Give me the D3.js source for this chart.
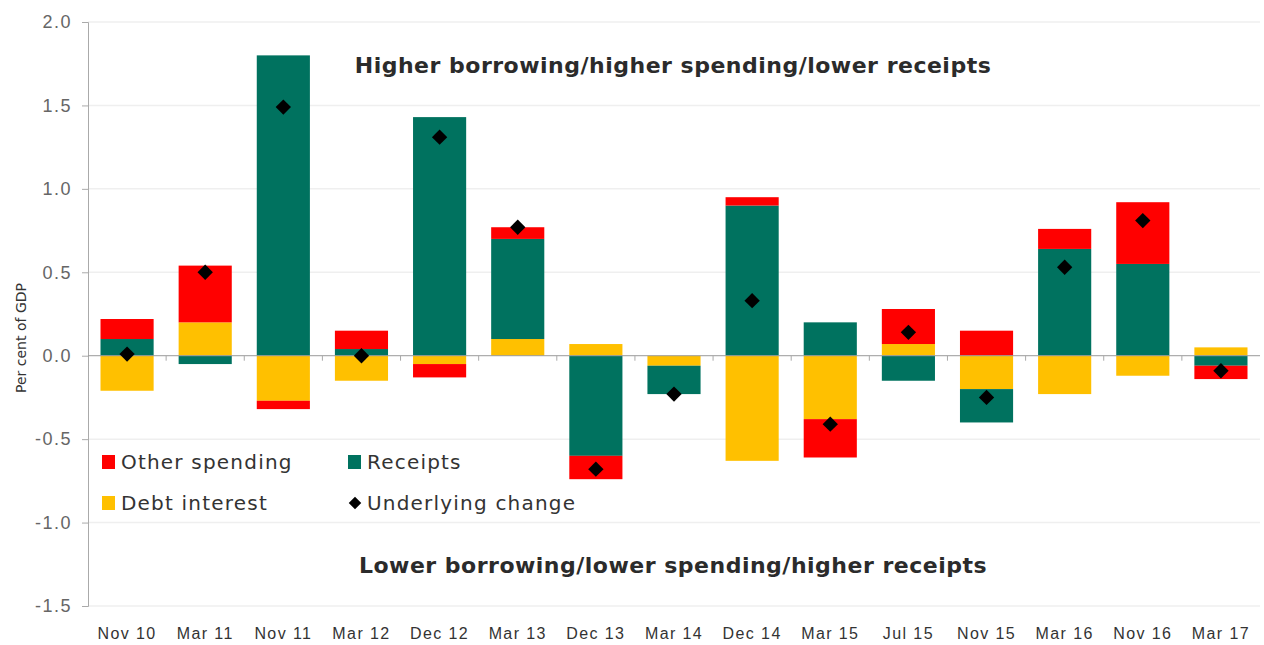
<!DOCTYPE html>
<html>
<head>
<meta charset="utf-8">
<script src="https://cdn.jsdelivr.net/npm/d3@7"></script>
<style>
  body { margin: 0; background: #fff; }
  svg { display: block; font-family: "DejaVu Sans", sans-serif; }
</style>
</head>
<body>
<svg id="chart" width="1264" height="645"></svg>
<script>
const categories = ["Nov 10","Mar 11","Nov 11","Mar 12","Dec 12","Mar 13","Dec 13","Mar 14","Dec 14","Mar 15","Jul 15","Nov 15","Mar 16","Nov 16","Mar 17"];
const debtInterest  = [-0.21, 0.20, -0.27, -0.15, -0.05, 0.10, 0.07, -0.06, -0.63, -0.38, 0.07, -0.20, -0.23, -0.12, 0.05];
const receipts      = [0.10, -0.05, 1.80, 0.04, 1.43, 0.60, -0.60, -0.17, 0.90, 0.20, -0.15, -0.20, 0.64, 0.55, -0.06];
const otherSpending = [0.12, 0.34, -0.05, 0.11, -0.08, 0.07, -0.14, 0.00, 0.05, -0.23, 0.21, 0.15, 0.12, 0.37, -0.08];
const underlying    = [0.01, 0.50, 1.49, 0.00, 1.31, 0.77, -0.68, -0.23, 0.33, -0.41, 0.14, -0.25, 0.53, 0.81, -0.09];
const yTicks = [-1.5, -1.0, -0.5, 0.0, 0.5, 1.0, 1.5, 2.0];
const seriesNames = ["Debt interest", "Receipts", "Other spending"];
const colors = {"Debt interest": "#FFC000", "Receipts": "#00725F", "Other spending": "#FF0000"};

const svg = d3.select("#chart");
const margin = {left: 88, right: 4, top: 22, bottom: 39};
const W = 1264, H = 645;

const x = d3.scaleBand().domain(categories).range([margin.left, W - margin.right]).paddingInner(0.32).paddingOuter(0.16);
const y = d3.scaleLinear().domain([-1.5, 2.0]).range([H - margin.bottom, margin.top]);

const table = categories.map((c, i) => ({
  cat: c,
  "Debt interest": debtInterest[i],
  "Receipts": receipts[i],
  "Other spending": otherSpending[i]
}));
const stack = d3.stack().keys(seriesNames).offset(d3.stackOffsetDiverging);
const stacked = stack(table);

// gridlines
svg.append("g").selectAll("line").data(yTicks.filter(t => t !== 0)).join("line")
  .attr("x1", margin.left).attr("x2", W - margin.right)
  .attr("y1", d => y(d)).attr("y2", d => y(d))
  .attr("stroke", "#efefef").attr("stroke-width", 1.5);

// bars
svg.append("g").selectAll("g").data(stacked).join("g")
  .attr("fill", d => colors[d.key])
  .selectAll("rect").data(d => d).join("rect")
  .attr("x", d => x(d.data.cat))
  .attr("width", x.bandwidth())
  .attr("y", d => y(Math.max(d[0], d[1])))
  .attr("height", d => Math.abs(y(d[0]) - y(d[1])));

// y axis
const fmt = d => d.toFixed(1);
const yAxis = d3.axisLeft(y).tickValues(yTicks).tickFormat(fmt).tickSize(6).tickPadding(10);
const yg = svg.append("g").attr("transform", `translate(${margin.left},0)`).call(yAxis);
yg.select(".domain").attr("stroke", "#aaa");
yg.selectAll(".tick line").attr("stroke", "#aaa");
yg.selectAll(".tick text").attr("fill", "#666").style("font-size", "18px").style("letter-spacing", "1.5px");

// zero line with category boundary ticks
svg.append("line").attr("x1", margin.left).attr("x2", W - margin.right)
  .attr("y1", y(0)).attr("y2", y(0)).attr("stroke", "#9a9a9a").attr("stroke-width", 1);
const step = x.step();
svg.append("g").selectAll("line").data(categories.slice(1)).join("line")
  .attr("x1", d => x(d) - step * x.paddingInner() / 2)
  .attr("x2", d => x(d) - step * x.paddingInner() / 2)
  .attr("y1", y(0)).attr("y2", y(0) + 5)
  .attr("stroke", "#aaa");

// x labels
const xAxis = d3.axisBottom(x).tickSize(0).tickPadding(0);
const xg = svg.append("g").attr("transform", `translate(0,${H - 12})`).call(xAxis);
xg.select(".domain").remove();
xg.selectAll(".tick text").attr("fill", "#333").style("font-size", "16px")
  .style("letter-spacing", "1.4px").attr("dy", "0.35em");

// underlying change diamonds
svg.append("g").selectAll("path").data(underlying).join("path")
  .attr("d", d3.symbol().type(d3.symbolDiamond2).size(150))
  .attr("transform", (d, i) => `translate(${x(categories[i]) + x.bandwidth() / 2},${y(d)})`)
  .attr("fill", "#000");

// y label
svg.append("text").attr("transform", `translate(21,338) rotate(-90)`)
  .attr("text-anchor", "middle").attr("dy", "0.35em").attr("fill", "#333").style("font-size", "14px")
  .text("Per cent of GDP");

// annotations
svg.append("text").attr("x", 673).attr("y", 73).attr("text-anchor", "middle")
  .attr("fill", "#2b2b2b").style("font-size", "22px").style("font-weight", "bold")
  .style("letter-spacing", "0.5px")
  .text("Higher borrowing/higher spending/lower receipts");
svg.append("text").attr("x", 673).attr("y", 573).attr("text-anchor", "middle")
  .attr("fill", "#2b2b2b").style("font-size", "22px").style("font-weight", "bold")
  .style("letter-spacing", "0.5px")
  .text("Lower borrowing/lower spending/higher receipts");

// legend
const legendItems = [
  {name: "Other spending", x: 102, y: 462, type: "rect"},
  {name: "Receipts", x: 348, y: 462, type: "rect"},
  {name: "Debt interest", x: 102, y: 503, type: "rect"},
  {name: "Underlying change", x: 348, y: 503, type: "diamond"}
];
const lg = svg.append("g").selectAll("g").data(legendItems).join("g")
  .attr("transform", d => `translate(${d.x},${d.y})`);
lg.filter(d => d.type === "rect").append("rect")
  .attr("x", 0).attr("y", -7).attr("width", 13).attr("height", 14)
  .attr("fill", d => colors[d.name]);
lg.filter(d => d.type === "diamond").append("path")
  .attr("d", d3.symbol().type(d3.symbolDiamond2).size(100))
  .attr("transform", "translate(7,0)").attr("fill", "#000");
lg.append("text").attr("x", 19).attr("dy", "0.35em")
  .attr("fill", "#333").style("font-size", "20px").style("letter-spacing", "1.2px")
  .text(d => d.name);
</script>
</body>
</html>
